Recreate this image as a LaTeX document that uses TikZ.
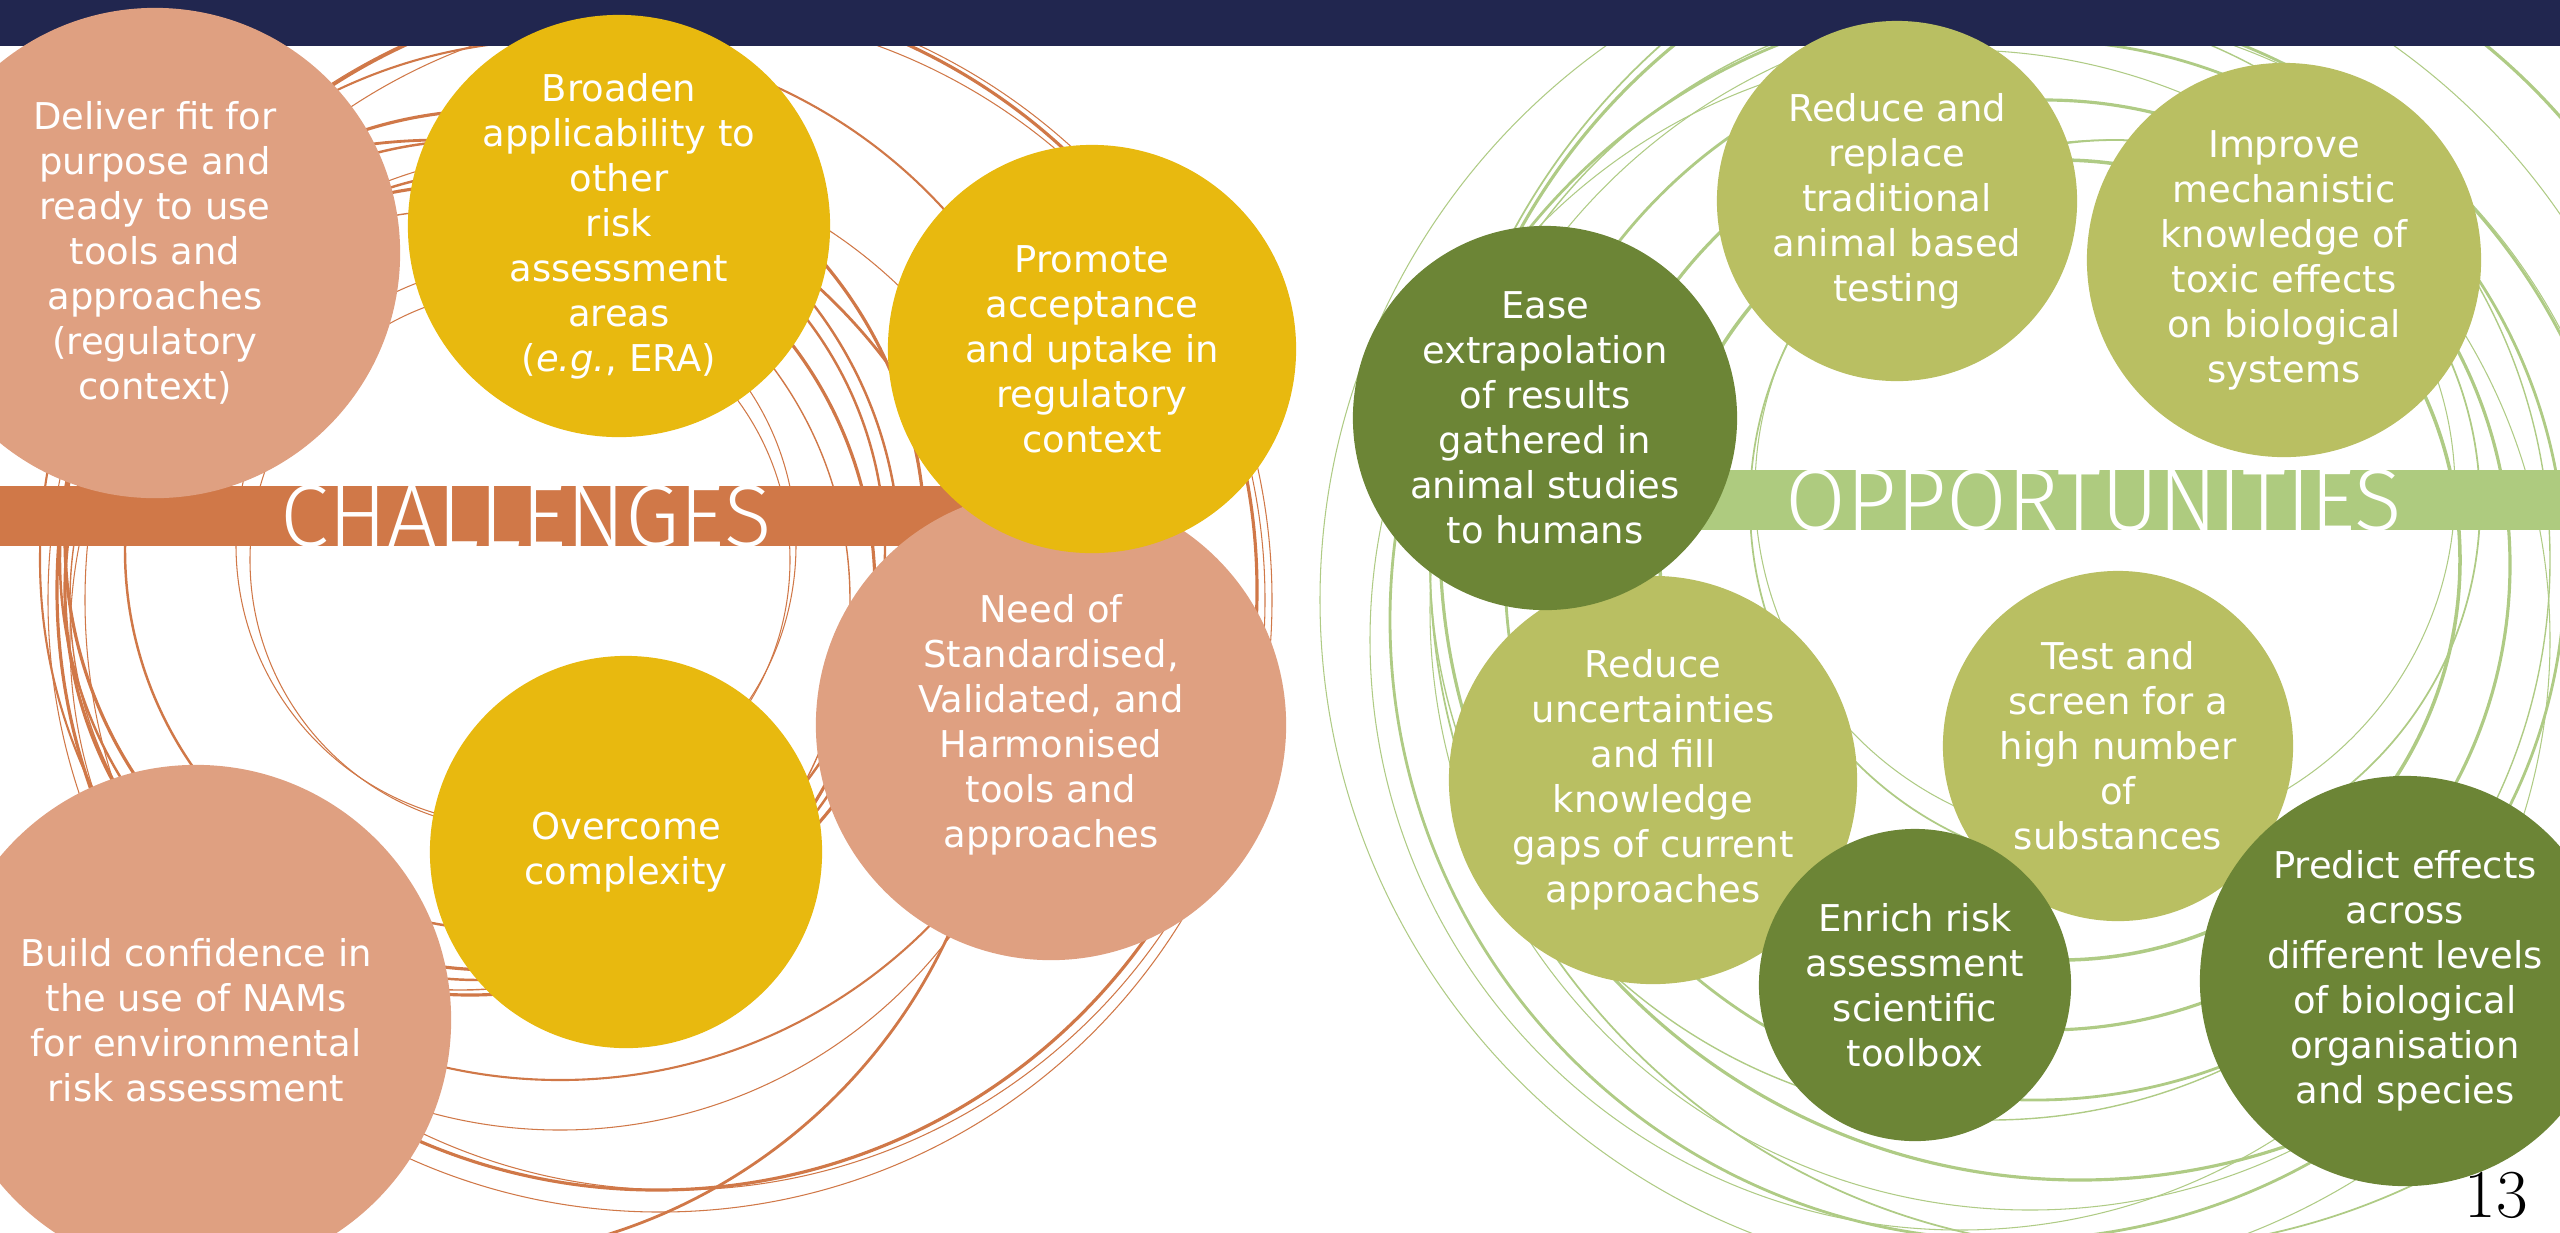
\documentclass[tikz,border=0pt]{standalone}
\usepackage{fontspec}
\usepackage{tikz}
\newfontfamily\bubfont{DejaVu Sans}
\newfontfamily\banfont{Fira Sans Light}
\definecolor{navy}{HTML}{21264F}
\definecolor{salmon}{HTML}{DFA081}
\definecolor{mustard}{HTML}{E8B90F}
\definecolor{rust}{HTML}{D07848}
\definecolor{olive}{HTML}{B9BF62}
\definecolor{moss}{HTML}{6C8536}
\definecolor{sage}{HTML}{AECB7F}
\definecolor{sageline}{HTML}{AFCB85}
\tikzset{bub/.style={circle, inner sep=0pt, text=white, align=center, font=\bubfont\fontsize{10.5}{12.8}\selectfont},
	ban/.style={anchor=base, inner sep=0pt, text=white, font=\banfont\fontsize{25}{25}\selectfont}}

\begin{document}
\begin{tikzpicture}[x=0.01cm, y=-0.01cm]
	\clip (0,0) rectangle (2560,1232);
	\foreach \cx/\cy/\r/\w in {657/590/600/0.9, 675/600/590/0.3, 470/590/405/0.9, 480/560/420/0.7, 495/540/430/0.9, 460/600/390/0.4, 505/550/380/0.7, 516/545/280/0.3, 520/560/270/0.3, 560/640/490/0.3, 660/600/612/0.3, 560/560/520/0.6, 440/700/560/0.8}
		\draw[rust, line width=\w pt] (\cx,\cy) circle (\r);
	\foreach \cx/\cy/\r/\w in {2060/560/400/1.0, 2045/565/465/0.9, 2035/570/530/0.8, 2105/490/350/0.3, 2115/505/365/0.5, 2000/600/680/0.3, 2010/620/620/0.8, 2030/610/600/0.3, 2080/540/640/0.9, 1990/560/560/0.4, 2120/560/690/0.5, 1960/640/590/0.3}
		\draw[sageline, line width=\w pt] (\cx,\cy) circle (\r);
	\fill[navy] (0,0) rectangle (2560,46);
	\fill[rust] (0,486) rectangle (1000,546);
	\fill[sage] (1650,470) rectangle (2560,530);
	\node[ban] (chal) at (526,546) {CHALLENGES};
	\node[ban] (opp) at (2094,530) {OPPORTUNITIES};
	\node[bub, fill=salmon, minimum size=4.9cm] (deliver) at (155,253) {Deliver fit for\\purpose and\\ready to use\\tools and\\approaches\\(regulatory\\context)};
	\node[bub, fill=mustard, minimum size=4.22cm] (broaden) at (619,226) {Broaden\\applicability to\\other\\risk\\assessment\\areas\\(\textit{e.g.}, ERA)};
	\node[bub, fill=salmon, minimum size=4.7cm] (need) at (1051,725) {Need of\\Standardised,\\Validated, and\\Harmonised\\tools and\\approaches};
	\node[bub, fill=mustard, minimum size=4.08cm] (promote) at (1092,349) {Promote\\acceptance\\and uptake in\\regulatory\\context};
	\node[bub, fill=mustard, minimum size=3.92cm] (overcome) at (626,852) {Overcome\\complexity};
	\node[bub, fill=salmon, minimum size=5.1cm] (build) at (196,1020) {Build confidence in\\the use of NAMs\\for environmental\\risk assessment};
	\node[bub, fill=olive, minimum size=3.6cm] (replace) at (1897,201) {Reduce and\\replace\\traditional\\animal based\\testing};
	\node[bub, fill=olive, minimum size=3.94cm] (improve) at (2284,260) {Improve\\mechanistic\\knowledge of\\toxic effects\\on biological\\systems};
	\node[bub, fill=olive, minimum size=4.08cm] (uncert) at (1653,780) {Reduce\\uncertainties\\and fill\\knowledge\\gaps of current\\approaches};
	\node[bub, fill=olive, minimum size=3.5cm] (screen) at (2118,746) {Test and\\screen for a\\high number\\of\\substances};
	\node[bub, fill=moss, minimum size=3.84cm] (ease) at (1545,418) {Ease\\extrapolation\\of results\\gathered in\\animal studies\\to humans};
	\node[bub, fill=moss, minimum size=3.12cm] (enrich) at (1915,985) {Enrich risk\\assessment\\scientific\\toolbox};
	\node[bub, fill=moss, minimum size=4.1cm] (predict) at (2405,981) {Predict effects\\across\\different levels\\of biological\\organisation\\and species};
	\node[anchor=base, inner sep=0pt, font=\fontsize{19.5}{20}\selectfont] (page) at (2496,1217) {13};
\end{tikzpicture}
\end{document}
